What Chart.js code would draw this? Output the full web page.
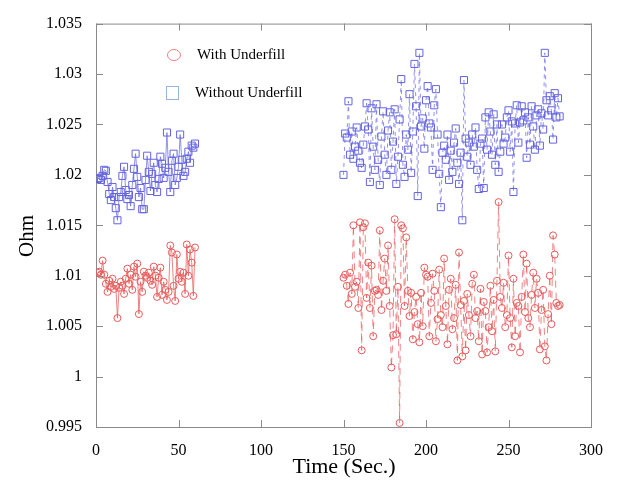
<!DOCTYPE html>
<html>
<head>
<meta charset="utf-8">
<script src="https://cdn.jsdelivr.net/npm/chart.js@4.4.1/dist/chart.umd.min.js"></script>
<style>
  body { margin: 0; background: #fff; }
  #wrap { width: 617px; height: 482px; }
</style>
</head>
<body>
<div id="wrap"><canvas id="ohmChart" width="617" height="482"></canvas></div>
<script>
// resistance samples, one per second
var run1Start = 1;
var run2Start = 150;

var withUnderfill1 = [
  1.0103, 1.0104, 1.0101, 1.0115, 1.0101, 1.0092, 1.0084, 1.0095, 1.0089, 1.0097,
  1.0087, 1.0090, 1.0058, 1.0088, 1.0094, 1.0090, 1.0082, 1.0097, 1.0107, 1.0092,
  1.0101, 1.0086, 1.0109, 1.0099, 1.0112, 1.0062, 1.0094, 1.0084, 1.0104, 1.0100,
  1.0098, 1.0103, 1.0095, 1.0091, 1.0109, 1.0100, 1.0079, 1.0098, 1.0108, 1.0081,
  1.0094, 1.0086, 1.0076, 1.0084, 1.0130, 1.0123, 1.0090, 1.0075, 1.0121, 1.0097,
  1.0104, 1.0094, 1.0103, 1.0082, 1.0131, 1.0100, 1.0126, 1.0113, 1.0080, 1.0128
];
var withUnderfill2 = [
  1.0098, 1.0101, 1.0090, 1.0072, 1.0103, 1.0082, 1.0150, 1.0089, 1.0094, 1.0068,
  1.0153, 1.0026, 1.0148, 1.0152, 1.0078, 1.0113, 1.0068, 1.0110, 1.0040, 1.0085,
  1.0086, 1.0081, 1.0145, 1.0066, 1.0095, 1.0117, 1.0085, 1.0130, 1.0070, 1.0009,
  1.0041, 1.0156, 1.0042, 1.0089, 0.9954, 1.0150, 1.0147, 1.0070, 1.0138, 1.0085,
  1.0060, 1.0083, 1.0037, 1.0064, 1.0079, 1.0052, 1.0034, 1.0083, 1.0050, 1.0108,
  1.0101, 1.0099, 1.0040, 1.0073, 1.0102, 1.0085, 1.0035, 1.0057, 1.0106, 1.0061,
  1.0049, 1.0117, 1.0070, 1.0032, 1.0086, 1.0097, 1.0047, 1.0058, 1.0091, 1.0016,
  1.0123, 1.0071, 1.0020, 1.0075, 1.0026, 1.0082, 1.0061, 1.0040, 1.0092, 1.0101,
  1.0058, 1.0065, 1.0035, 1.0087, 1.0022, 1.0074, 1.0065, 1.0024, 1.0049, 1.0090,
  1.0045, 1.0076, 1.0025, 1.0095, 1.0173, 1.0079, 1.0068, 1.0093, 1.0049, 1.0061,
  1.0120, 1.0058, 1.0029, 1.0097, 1.0040, 1.0073, 1.0070, 1.0024, 1.0079, 1.0121,
  1.0064, 1.0112, 1.0058, 1.0049, 1.0081, 1.0103, 1.0068, 1.0097, 1.0083, 1.0027,
  1.0066, 1.0086, 1.0030, 1.0016, 1.0062, 1.0100, 1.0052, 1.0140, 1.0121, 1.0073,
  1.0070, 1.0071
];

var withoutUnderfill1 = [
  1.0196, 1.0197, 1.0195, 1.0199, 1.0205, 1.0204, 1.0193, 1.0181, 1.0175, 1.0188,
  1.0178, 1.0167, 1.0155, 1.0178, 1.0183, 1.0199, 1.0208, 1.0185, 1.0176, 1.0180,
  1.0169, 1.0190, 1.0206, 1.0221, 1.0198, 1.0178, 1.0187, 1.0166, 1.0166, 1.0195,
  1.0219, 1.0203, 1.0184, 1.0201, 1.0212, 1.0190, 1.0183, 1.0196, 1.0218, 1.0211,
  1.0197, 1.0207, 1.0242, 1.0203, 1.0183, 1.0214, 1.0221, 1.0190, 1.0197, 1.0208,
  1.0240, 1.0215, 1.0199, 1.0203, 1.0216, 1.0223, 1.0212, 1.0229, 1.0227, 1.0231
];
var withoutUnderfill2 = [
  1.0200, 1.0241, 1.0237, 1.0273, 1.0220, 1.0243, 1.0216, 1.0228, 1.0247, 1.0224,
  1.0212, 1.0207, 1.0230, 1.0248, 1.0271, 1.0245, 1.0193, 1.0266, 1.0228, 1.0205,
  1.0270, 1.0215, 1.0190, 1.0238, 1.0263, 1.0220, 1.0200, 1.0244, 1.0262, 1.0205,
  1.0233, 1.0265, 1.0191, 1.0218, 1.0255, 1.0295, 1.0210, 1.0198, 1.0240, 1.0225,
  1.0280, 1.0202, 1.0243, 1.0310, 1.0268, 1.0179, 1.0321, 1.0248, 1.0256, 1.0226,
  1.0274, 1.0288, 1.0251, 1.0247, 1.0205, 1.0269, 1.0285, 1.0240, 1.0201, 1.0168,
  1.0222, 1.0229, 1.0215, 1.0240, 1.0195, 1.0224, 1.0203, 1.0232, 1.0246, 1.0212,
  1.0191, 1.0222, 1.0155, 1.0294, 1.0236, 1.0218, 1.0232, 1.0210, 1.0240, 1.0228,
  1.0247, 1.0205, 1.0186, 1.0231, 1.0236, 1.0187, 1.0257, 1.0225, 1.0262, 1.0243,
  1.0220, 1.0260, 1.0210, 1.0250, 1.0203, 1.0223, 1.0250, 1.0231, 1.0237, 1.0257,
  1.0264, 1.0223, 1.0253, 1.0183, 1.0251, 1.0269, 1.0232, 1.0252, 1.0268, 1.0254,
  1.0262, 1.0217, 1.0257, 1.0230, 1.0268, 1.0248, 1.0225, 1.0259, 1.0265, 1.0229,
  1.0261, 1.0245, 1.0321, 1.0274, 1.0259, 1.0278, 1.0264, 1.0235, 1.0281, 1.0257,
  1.0276, 1.0258
];

var xTicks = [0, 50, 100, 150, 200, 250, 300];
var yTicks = [0.995, 1, 1.005, 1.01, 1.015, 1.02, 1.025, 1.03, 1.035];

var seriesNames = ['With Underfill', 'Without Underfill'];

var RED = 'rgb(232, 90, 90)';
var RED_LINE = 'rgba(232, 90, 90, 0.75)';
var BLUE = 'rgb(100, 100, 226)';
var BLUE_LINE = 'rgba(100, 100, 226, 0.7)';
var SERIF = '"Liberation Serif", "DejaVu Serif", serif';

function toPoints(start, values) {
  var pts = [];
  for (var i = 0; i < values.length; i++) {
    pts.push({ x: start + i, y: values[i] });
  }
  return pts;
}

function series(values, start, color, lineColor, shape, radius, dash) {
  return {
    data: toPoints(start, values),
    showLine: true,
    borderColor: lineColor,
    borderWidth: 1,
    borderDash: dash,
    pointStyle: shape,
    pointRadius: radius,
    pointBorderColor: color,
    pointBackgroundColor: 'rgba(0,0,0,0)',
    pointBorderWidth: 1,
    pointHoverRadius: radius
  };
}

// box, inward ticks, axis titles and the little key in the corner
var framePlugin = {
  id: 'frame',
  beforeDatasetsDraw: function (chart) {
    var ctx = chart.ctx;
    var a = chart.chartArea;
    var xs = chart.scales.x, ys = chart.scales.y;
    var len = 7;
    ctx.save();
    ctx.strokeStyle = '#8a8a8a';
    ctx.lineWidth = 1;
    ctx.strokeRect(a.left + 0.5, a.top + 0.5, a.right - a.left, a.bottom - a.top);
    ctx.beginPath();
    xTicks.forEach(function (v) {
      var px = Math.round(xs.getPixelForValue(v)) + 0.5;
      ctx.moveTo(px, a.bottom); ctx.lineTo(px, a.bottom - len);
      ctx.moveTo(px, a.top); ctx.lineTo(px, a.top + len);
    });
    yTicks.forEach(function (v) {
      var py = Math.round(ys.getPixelForValue(v)) + 0.5;
      ctx.moveTo(a.left, py); ctx.lineTo(a.left + len, py);
      ctx.moveTo(a.right, py); ctx.lineTo(a.right - len, py);
    });
    ctx.stroke();
    ctx.restore();
  },
  afterDraw: function (chart) {
    var ctx = chart.ctx;
    ctx.save();
    ctx.fillStyle = '#000';
    ctx.textAlign = 'center';
    ctx.textBaseline = 'middle';
    ctx.font = '22px ' + SERIF;
    ctx.fillText('Time (Sec.)', 344, 467);
    ctx.font = '21px ' + SERIF;
    ctx.translate(27, 236);
    ctx.rotate(-Math.PI / 2);
    ctx.fillText('Ohm', 0, 0);
    ctx.restore();

    // key
    ctx.save();
    ctx.lineWidth = 1;
    ctx.strokeStyle = 'rgb(236, 130, 130)';
    ctx.beginPath();
    ctx.ellipse(174, 55, 6.5, 5.5, 0, 0, Math.PI * 2);
    ctx.stroke();
    ctx.strokeStyle = 'rgb(150, 180, 225)';
    ctx.strokeRect(166.5, 86.5, 12, 13);
    ctx.fillStyle = '#000';
    ctx.font = '15px ' + SERIF;
    ctx.textAlign = 'left';
    ctx.textBaseline = 'middle';
    ctx.fillText(seriesNames[0], 197, 55);
    ctx.fillText(seriesNames[1], 195, 93);
    ctx.restore();
  }
};

var ctx = document.getElementById('ohmChart').getContext('2d');
var chart = new Chart(ctx, {
  type: 'scatter',
  data: {
    datasets: [
      series(withUnderfill1, run1Start, RED, RED_LINE, 'circle', 3.5, []),
      series(withUnderfill2, run2Start, RED, RED_LINE, 'circle', 3.5, [7, 5]),
      series(withoutUnderfill1, run1Start, BLUE, BLUE_LINE, 'rect', 5, []),
      series(withoutUnderfill2, run2Start, BLUE, BLUE_LINE, 'rect', 5, [4, 4])
    ]
  },
  options: {
    responsive: false,
    animation: false,
    layout: { padding: { left: 0, top: 12, right: 23, bottom: 0 } },
    plugins: {
      legend: { display: false },
      tooltip: { enabled: false }
    },
    scales: {
      x: {
        type: 'linear',
        min: 0,
        max: 300,
        grid: { display: false, drawTicks: false },
        border: { display: false },
        afterBuildTicks: function (scale) {
          scale.ticks = xTicks.map(function (v) { return { value: v }; });
        },
        ticks: {
          color: '#000',
          font: { family: SERIF, size: 16 },
          padding: 14,
          maxRotation: 0
        },
        afterFit: function (scale) { scale.height = 55; }
      },
      y: {
        min: 0.995,
        max: 1.035,
        grid: { display: false, drawTicks: false },
        border: { display: false },
        afterBuildTicks: function (scale) {
          scale.ticks = yTicks.map(function (v) { return { value: v }; });
        },
        ticks: {
          color: '#000',
          font: { family: SERIF, size: 16 },
          padding: 14,
          callback: function (v) { return String(Number(v.toFixed(3))); }
        },
        afterFit: function (scale) { scale.width = 96; }
      }
    }
  },
  plugins: [framePlugin]
});
</script>
</body>
</html>
